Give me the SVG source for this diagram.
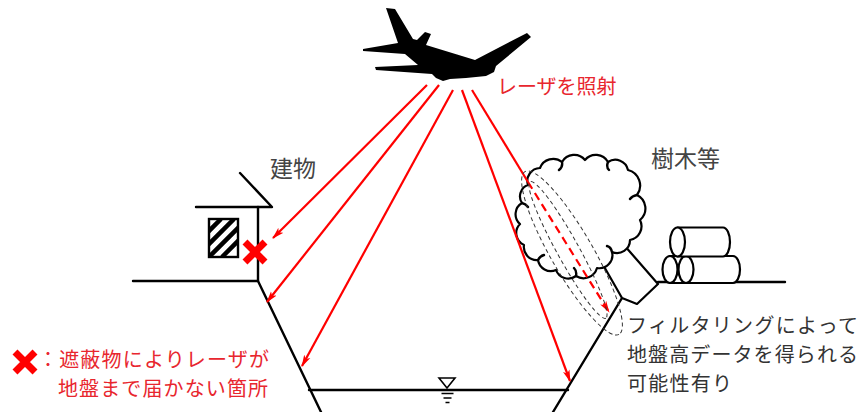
<svg xmlns="http://www.w3.org/2000/svg" width="865" height="412" viewBox="0 0 865 412">
  <style>
    .ln { fill: none; stroke: #000; stroke-width: 2.4; stroke-linecap: round; stroke-linejoin: round; }
    .obj { fill: #fff; stroke: #000; stroke-width: 2.2; stroke-linejoin: round; }
    .ray { fill: none; stroke: #f00; stroke-width: 2.2; }
    .dash { fill: none; stroke: #333; stroke-width: 1; stroke-dasharray: 4 3; }
    .jp { font-family: "Noto Sans CJK JP", "Noto Sans", sans-serif; }
    .lbl { fill: #444; font-size: 23px; }
    .red { fill: #e8262e; font-size: 20px; }
    .note { fill: #333; font-size: 20px; }
    .cross { fill: none; stroke: #f00; stroke-width: 7; stroke-linecap: butt; }
  </style>
  <defs>
    <marker id="ah" viewBox="0 0 12 8" refX="11" refY="4" markerWidth="12" markerHeight="8" markerUnits="userSpaceOnUse" orient="auto">
      <path d="M0,0.5 L12,4 L0,7.5 L3,4 Z" fill="#f00"/>
    </marker>
    <clipPath id="winClip">
      <rect x="209" y="219" width="29" height="38"/>
    </clipPath>
  </defs>

  <rect width="865" height="412" fill="#fff"/>

  <!-- ground profile: banks, trench slopes and water surface -->
  <g id="ground">
    <path class="ln" d="M133,281 H258 L321,412"/>
    <path class="ln" d="M553,412 L622,298"/>
    <path class="ln" d="M658,282 H785"/>
    <path class="ln" d="M309,390 H568"/>
  </g>

  <!-- water level mark -->
  <g id="water-mark">
    <path d="M439,378 H455 L447,388 Z" fill="#fff" stroke="#000" stroke-width="1.6"/>
    <path d="M441.5,393.5 H453.5 M443.5,398 H451.5 M445.5,402.5 H449.5" stroke="#000" stroke-width="1.6"/>
  </g>

  <!-- building -->
  <g id="building">
    <path class="ln" d="M258,207 V281"/>
    <path class="ln" d="M196,207 H272 L240,173"/>
    <g clip-path="url(#winClip)">
      <path d="M196,257 L234,219 M209,257 L247,219 M222,257 L260,219 M183,257 L221,219" stroke="#000" stroke-width="4.5"/>
    </g>
    <rect x="209" y="219" width="29" height="38" fill="none" stroke="#000" stroke-width="2.4"/>
  </g>

  <!-- logs -->
  <g id="logs">
    <path class="obj" d="M670,256 H733 A7,13.5 0 0 1 733,283 H670 Z"/>
    <ellipse class="obj" cx="686" cy="269.5" rx="7.5" ry="13.5"/>
    <ellipse class="obj" cx="670" cy="269.5" rx="7.5" ry="13.5"/>
    <path class="obj" d="M677.5,227.5 H723 A7,14.5 0 0 1 723,256.5 H677.5 Z"/>
    <ellipse class="obj" cx="677.5" cy="242" rx="7.5" ry="14.5"/>
  </g>

  <!-- tree: trunk and canopy -->
  <g id="tree">
    <path class="obj" d="M598,256 L622,298 L637,304 L658,284 L624,245 Z"/>
    <path class="obj" d="M528,185 A13,13 0 0 1 540,168 A14,14 0 0 1 562,162 A14,14 0 0 1 585,160 A14,14 0 0 1 608,162 A13,13 0 0 1 628,170 A16,16 0 0 1 637,195 A15,15 0 0 1 640,220 A14,14 0 0 1 630,240 A13,13 0 0 1 612,252 A13,13 0 0 1 597,268 A14,14 0 0 1 576,276 A13,13 0 0 1 556,270 A13,13 0 0 1 538,260 A13,13 0 0 1 524,245 A13,13 0 0 1 520,224 A13,13 0 0 1 522,203 A12,12 0 0 1 528,185 Z"/>
    <path class="ln" stroke-width="1.6" d="M562,162 q1,5 -3,8 M608,162 q-2,5 1,8 M637,195 q-5,1 -7,4 M612,252 q-1,-5 -5,-6 M576,276 q1,-5 -2,-8 M538,260 q2,-4 6,-5 M522,203 q4,1 6,4"/>
  </g>

  <!-- aircraft -->
  <g id="aircraft">
    <path fill="#000" d="M386,8 L395,9 L413,39 L417,40 L425,32 L431,34 L426,45 L475,60 L527,33 L531,37 L496,66 L494,72 L486,76 L466,78 L450,79 L443,81 L436,78 L432,74 L376,70 L375,67 L418,65 L405,54 L363,51 L363,49 L398,43 Z"/>
  </g>

  <!-- laser beams -->
  <g id="beams">
    <path class="ray" d="M427,85 L273,238" marker-end="url(#ah)"/>
    <path class="ray" d="M439,85 L267,302" marker-end="url(#ah)"/>
    <path class="ray" d="M453,90 L302,366" marker-end="url(#ah)"/>
    <path class="ray" d="M462,90 L570,381" marker-end="url(#ah)"/>
    <path class="ray" d="M472,90 L528,182"/>
    <path class="ray" stroke-width="2.6" stroke-dasharray="8 5" d="M528,182 L609,312" marker-end="url(#ah)"/>
  </g>

  <!-- region where ground returns can be filtered -->
  <g id="filter-zone">
    <ellipse class="dash" cx="572" cy="253" rx="94" ry="21" transform="rotate(60 572 253)"/>
    <ellipse class="dash" cx="568" cy="250" rx="78" ry="11" transform="rotate(61 568 250)"/>
  </g>

  <!-- blocked points -->
  <g id="blocked-mark">
    <path class="cross" d="M245,242 L265,262 M265,242 L245,262"/>
  </g>
  <g id="legend">
    <path class="cross" d="M15,352 L35,372 M35,352 L15,372"/>
    <text class="jp red" x="38" y="367" textLength="231" lengthAdjust="spacing">：遮蔽物によりレーザが</text>
    <text class="jp red" x="58" y="396" textLength="210" lengthAdjust="spacing">地盤まで届かない箇所</text>
  </g>

  <!-- labels -->
  <g id="labels">
    <text class="jp red" x="497" y="94">レーザを照射</text>
    <text class="jp lbl" x="270" y="177">建物</text>
    <text class="jp lbl" x="651" y="167">樹木等</text>
    <text class="jp note" x="627" y="333" textLength="231" lengthAdjust="spacing">フィルタリングによって</text>
    <text class="jp note" x="627" y="362" textLength="231" lengthAdjust="spacing">地盤高データを得られる</text>
    <text class="jp note" x="627" y="391" textLength="105" lengthAdjust="spacing">可能性有り</text>
  </g>
</svg>
